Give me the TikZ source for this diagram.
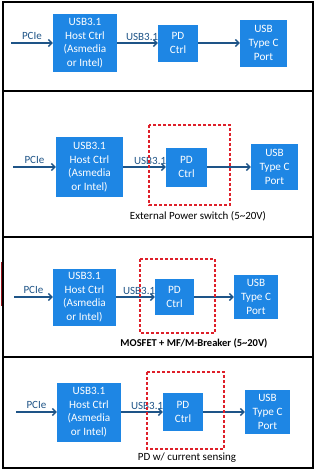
\documentclass[tikz,border=0pt]{standalone}
\usepackage{fontspec}
\setmainfont{Carlito}
\usetikzlibrary{arrows.meta}

\definecolor{boxblue}{RGB}{30,134,228}
\definecolor{linkblue}{RGB}{30,84,135}
\definecolor{pdred}{RGB}{222,32,42}

\begin{document}
\begin{tikzpicture}[x=1pt, y=-1pt,
    blk/.style={fill=boxblue, text=white, align=center, inner sep=0pt,
        font=\fontsize{11.2}{13.7}\selectfont},
    link/.style={-{Straight Barb[length=3.5pt,width=7pt]}, linkblue, line width=1.4pt},
    lbl/.style={font=\fontsize{11}{12}\selectfont, inner sep=1pt},
    pdzone/.style={draw=pdred, line width=1.3pt, dash pattern=on 3pt off 2pt}]
    \useasboundingbox (0,0) rectangle (316,471);
    \fill[white] (0,0) rectangle (316,471);

    % Table frame
    \draw[line width=1.5pt] (3,2) rectangle (313,468);
    \draw[line width=1.5pt] (3,91) -- (313,91);
    \draw[line width=1.5pt] (3,237) -- (313,237);
    \draw[line width=1.5pt] (3,357) -- (313,357);
    \draw[pdred!70!black, line width=0.8pt] (1,262) -- (1,306);

    % Row 1: plain PD controller
    \coordinate (in1) at (11,43);
    \node[blk, minimum width=64pt, minimum height=58pt] (host1) at (85,43) {USB3.1\\Host Ctrl\\(Asmedia\\or Intel)};
    \node[blk, minimum width=40pt, minimum height=37pt] (pd1) at (178,43) {PD\\Ctrl};
    \node[blk, minimum width=47pt, minimum height=47pt] (port1) at (263.5,43) {USB\\Type C\\Port};
    \draw[link] (in1) -- (host1.west) node[lbl, midway, above=2pt] {PCIe};
    \draw[link] (host1.east) -- (pd1.west) node[lbl, pos=1, anchor=south east, xshift=2pt, yshift=1pt] {USB3.1};
    \draw[link] (pd1.east) -- (port1.west);

    % Row 2: external power switch
    \coordinate (in2) at (13,167);
    \node[blk, minimum width=67pt, minimum height=60pt] (host2) at (89.5,167) {USB3.1\\Host Ctrl\\(Asmedia\\or Intel)};
    \node[blk, minimum width=41pt, minimum height=39pt] (pd2) at (186.5,167) {PD\\Ctrl};
    \node[blk, minimum width=47pt, minimum height=46pt] (port2) at (274.5,167) {USB\\Type C\\Port};
    \draw[link] (in2) -- (host2.west) node[lbl, midway, above=2pt] {PCIe};
    \draw[link] (host2.east) -- (pd2.west) node[lbl, pos=1, anchor=south east, xshift=2pt, yshift=1pt] {USB3.1};
    \draw[link] (pd2.east) -- (port2.west);
    \draw[pdzone] (149,125) rectangle (230,205);
    \node[lbl] (note2) at (198,216) {External Power switch (5\textasciitilde 20V)};

    % Row 3: MOSFET + breaker
    \coordinate (in3) at (14,297);
    \node[blk, minimum width=63pt, minimum height=57pt] (host3) at (84.5,297) {USB3.1\\Host Ctrl\\(Asmedia\\or Intel)};
    \node[blk, minimum width=39pt, minimum height=36pt] (pd3) at (174.5,297) {PD\\Ctrl};
    \node[blk, minimum width=44pt, minimum height=44pt] (port3) at (256,297) {USB\\Type C\\Port};
    \draw[link] (in3) -- (host3.west) node[lbl, midway, above=2pt] {PCIe};
    \draw[link] (host3.east) -- (pd3.west) node[lbl, pos=1, anchor=south east, xshift=2pt, yshift=1pt] {USB3.1};
    \draw[link] (pd3.east) -- (port3.west);
    \draw[pdzone] (140,259) rectangle (215,333);
    \node[lbl, font=\fontsize{10.5}{12}\selectfont\bfseries] (note3) at (194,343) {MOSFET + MF/M-Breaker (5\textasciitilde 20V)};

    % Row 4: PD with current sensing
    \coordinate (in4) at (16,412);
    \node[blk, minimum width=64pt, minimum height=59pt] (host4) at (89,412) {USB3.1\\Host Ctrl\\(Asmedia\\or Intel)};
    \node[blk, minimum width=40pt, minimum height=38pt] (pd4) at (183,412) {PD\\Ctrl};
    \node[blk, minimum width=45pt, minimum height=44pt] (port4) at (267.5,412) {USB\\Type C\\Port};
    \draw[link] (in4) -- (host4.west) node[lbl, midway, above=2pt] {PCIe};
    \draw[link] (host4.east) -- (pd4.west) node[lbl, pos=1, anchor=south east, xshift=2pt, yshift=1pt] {USB3.1};
    \draw[link] (pd4.east) -- (port4.west);
    \draw[pdzone] (147,372) rectangle (224,449);
    \node[lbl] (note4) at (187,458) {PD w/ current sensing};
\end{tikzpicture}
\end{document}
